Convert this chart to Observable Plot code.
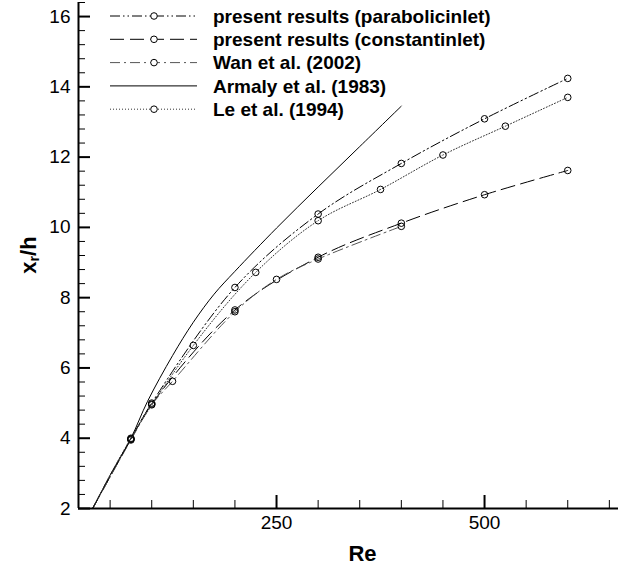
<!DOCTYPE html>
<html><head><meta charset="utf-8">
<script src="https://cdn.jsdelivr.net/npm/d3@7"></script>
<script src="https://cdn.jsdelivr.net/npm/@observablehq/plot@0.6"></script>
<style>
body{margin:0;background:#fff;}
#chart{width:618px;height:566px;overflow:hidden;}
</style>
</head><body><div id="chart"></div>
<script>
// ---- data ----
const seriesNames = [
  "present results (parabolicinlet)",
  "present results (constantinlet)",
  "Wan et al. (2002)",
  "Armaly et al. (1983)",
  "Le et al. (1994)"
];
const startRe = 29, startXr = 2;   // common point where the curves leave the bottom axis

const parabolicRe = [75, 100, 200, 300, 400, 500, 600];
const parabolicXr = [3.98, 5.0, 8.29, 10.38, 11.82, 13.09, 14.24];

const constantRe = [75, 100, 200, 300, 400, 500, 600];
const constantXr = [3.97, 4.97, 7.65, 9.15, 10.12, 10.93, 11.62];

const wanRe = [75, 100, 125, 200, 250, 300, 400];
const wanXr = [3.95, 4.95, 5.62, 7.6, 8.52, 9.1, 10.03];

const armalyRe = [29, 50, 75, 95, 125, 150, 175, 200, 250, 300, 350, 400];
const armalyXr = [2, 2.95, 4.0, 5.05, 6.35, 7.3, 8.1, 8.75, 9.98, 11.15, 12.3, 13.45];

const leRe = [75, 150, 225, 300, 375, 450, 525, 600];
const leXr = [4.0, 6.64, 8.72, 10.19, 11.08, 12.06, 12.88, 13.70];

const xTickLabels = [250, 500];
const yTickLabels = [2, 4, 6, 8, 10, 12, 14, 16];

// ---- layout / styles ----
const W = 618, H = 566;
const mL = 78, mR = 0, mT = 2, mB = 58;
const plotH = H - mT - mB;
const xDomain = [12, 661], yDomain = [2, 16.4];
const font = "Liberation Sans";

const series = [
  {name: seriesNames[0], re: parabolicRe, xr: parabolicXr, dash: "10,3,1.5,3,1.5,3", color: "#000", marker: true, fromStart: true},
  {name: seriesNames[1], re: constantRe, xr: constantXr, dash: "14,6", color: "#000", marker: true, fromStart: true},
  {name: seriesNames[2], re: wanRe, xr: wanXr, dash: "10,4,2,4", color: "#555", marker: true, fromStart: true},
  {name: seriesNames[3], re: armalyRe, xr: armalyXr, dash: null, color: "#000", marker: false, fromStart: false},
  {name: seriesNames[4], re: leRe, xr: leXr, dash: "1,2", color: "#333", marker: true, fromStart: true}
];

const rowsOf = s => s.re.map((r, i) => ({re: r, xr: s.xr[i]}));

const xMinor = [50, 100, 150, 200, 300, 350, 400, 450, 550, 600, 650];
const yMinor = d3.range(2, 16.41, 0.4).map(v => +v.toFixed(1)).filter(v => !yTickLabels.includes(v));
const noText = () => "";

const marks = [];
for (const s of series) {
  const pts = rowsOf(s);
  const linePts = s.fromStart ? [{re: startRe, xr: startXr}, ...pts] : pts;
  const opts = {x: "re", y: "xr", curve: "catmull-rom", stroke: s.color, strokeWidth: 1};
  if (s.dash) opts.strokeDasharray = s.dash;
  marks.push(Plot.line(linePts, opts));
  if (s.marker) marks.push(Plot.dot(pts, {x: "re", y: "xr", r: 3.3, stroke: "#000", fill: "none", strokeWidth: 1}));
}
marks.push(
  Plot.ruleX([xDomain[0]], {stroke: "#000", strokeWidth: 2}),
  Plot.ruleY([yDomain[0]], {stroke: "#000", strokeWidth: 2}),
  Plot.axisX({ticks: xMinor, tickSize: -8, tickFormat: noText, label: null, stroke: "#000", strokeWidth: 1}),
  Plot.axisX({ticks: xTickLabels, tickSize: -13, tickFormat: noText, label: null, stroke: "#000", strokeWidth: 2}),
  Plot.axisY({ticks: yMinor, tickSize: -7, tickFormat: noText, label: null, stroke: "#000", strokeWidth: 1}),
  Plot.axisY({ticks: yTickLabels, tickSize: -12, tickFormat: noText, label: null, stroke: "#000", strokeWidth: 2}),
  Plot.axisX({ticks: xTickLabels, tickSize: 0, tickPadding: 7, label: null, fontSize: 19, tickFormat: d => String(d)}),
  Plot.axisY({ticks: yTickLabels, tickSize: 0, tickPadding: 8, label: null, fontSize: 19, tickFormat: d => String(d)}),
  Plot.text(["Re"], {frameAnchor: "bottom", dy: 45, dx: 14, fontSize: 22, fontWeight: "bold", lineAnchor: "middle"})
);

const chart = Plot.plot({
  width: W, height: H,
  marginLeft: mL, marginRight: mR, marginTop: mT, marginBottom: mB,
  style: {fontFamily: font, fontSize: "19px", background: "#fff"},
  x: {domain: xDomain, axis: null},
  y: {domain: yDomain, axis: null},
  marks
});
document.getElementById("chart").appendChild(chart);

const svg = d3.select(chart);
// y axis title with subscript
const yl = svg.append("text")
  .attr("transform", `translate(28,${mT + plotH / 2}) rotate(-90)`)
  .attr("text-anchor", "middle").attr("dominant-baseline", "central")
  .attr("font-family", font).attr("font-size", 22).attr("font-weight", "bold").attr("fill", "#000");
yl.append("tspan").text("x");
yl.append("tspan").attr("font-size", 14).attr("dy", 6).text("r");
yl.append("tspan").attr("dy", -6).text("/h");

// legend
const lg = svg.append("g").attr("font-family", font).attr("text-anchor", "start");
series.forEach((s, i) => {
  const y = 16 + i * 23.3;
  lg.append("line").attr("x1", 110).attr("x2", 197).attr("y1", y).attr("y2", y)
    .attr("stroke", s.color).attr("stroke-width", 1)
    .attr("stroke-dasharray", s.dash || null);
  if (s.marker) lg.append("circle").attr("cx", 154).attr("cy", y).attr("r", 3.3)
    .attr("fill", "#fff").attr("stroke", "#000");
  lg.append("text").attr("x", 213).attr("y", y).attr("dy", "0.36em").attr("text-anchor", "start")
    .attr("font-size", 19).attr("font-weight", "bold").attr("fill", "#000").text(s.name);
});
</script>
</body></html>
